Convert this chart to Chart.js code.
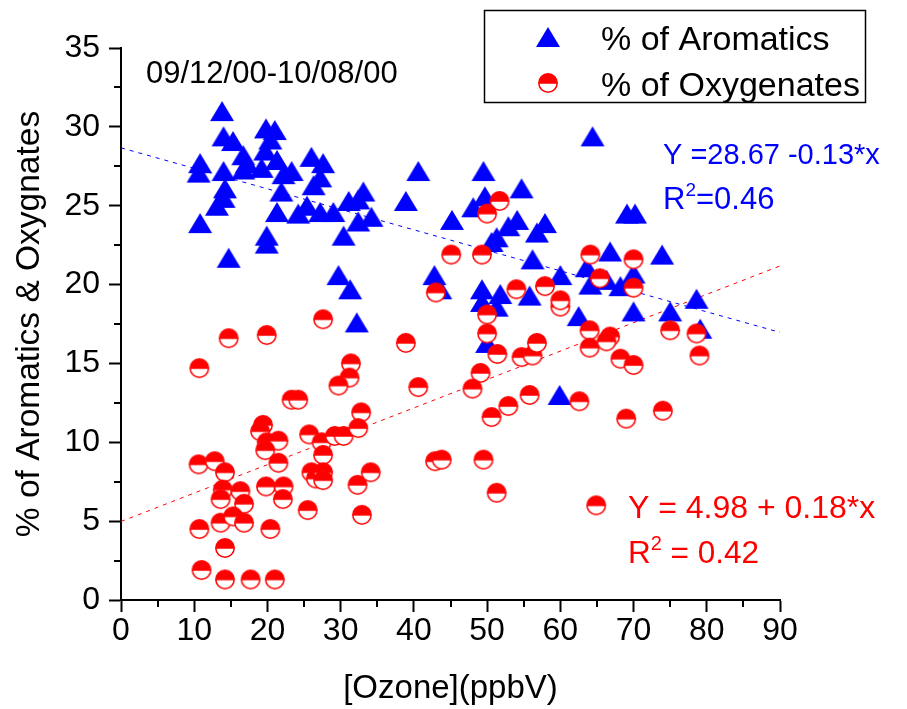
<!DOCTYPE html>
<html>
<head>
<meta charset="utf-8">
<script src="https://cdn.jsdelivr.net/npm/chart.js@4.4.1/dist/chart.umd.min.js"></script>
<style>
  html, body { margin: 0; padding: 0; background: #ffffff; }
  #wrap { width: 907px; height: 709px; }
</style>
</head>
<body>
<div id="wrap"><canvas id="c" width="907" height="709"></canvas></div>
<script>
// Ozone (ppbV) and % of aromatics
const ozoneAro = [13.8,14.0,15.3,19.8,21.0,20.4,16.7,17.2,19.7,21.3,10.8,10.6,14.0,16.7,19.2,23.3,22.2,26.0,27.6,27.2,
  26.3,21.9,14.2,14.0,13.1,21.3,25.4,24.2,27.2,29.0,31.1,10.8,19.9,19.9,14.7,30.4,29.7,31.3,
  33.1,32.4,34.2,32.4,32.2,
  40.6,49.5,54.7,38.9,49.7,48.1,45.2,54.1,52.9,57.9,56.8,51.3,50.6,56.2,60.0,42.8,43.6,49.3,51.8,49.3,51.3,55.8,62.5,50.0,59.9,64.4,
  69.1,70.2,66.8,73.9,63.6,70.0,64.1,66.3,68.2,78.6,70.0,75.0,79.1];
const aromatics = [31.0,29.4,29.1,29.9,29.8,29.2,28.2,27.7,28.5,27.9,27.7,27.1,27.2,27.3,27.4,27.2,27.0,28.1,27.7,26.8,
  26.3,25.9,26.1,25.5,25.0,24.6,25.0,24.5,24.6,24.6,25.3,23.9,23.1,22.6,21.7,23.1,20.6,19.7,
  25.9,25.4,24.3,24.0,17.6,
  27.2,27.2,26.1,25.3,25.6,24.9,24.1,24.1,23.7,23.9,23.3,23.0,22.7,21.6,20.6,20.6,19.7,19.7,19.4,18.9,18.6,19.3,18.0,16.3,13.0,29.4,
  24.5,24.5,22.1,21.9,21.1,20.7,20.0,20.3,19.9,19.1,18.3,18.3,17.2];

// Ozone (ppbV) and % of oxygenates
const ozoneOxy = [27.6,14.7,19.9,10.7,31.4,31.2,29.7,23.3,24.2,19.4,19.0,19.9,21.5,19.7,25.7,27.4,29.2,30.4,27.6,32.8,
  32.4,10.6,12.8,14.2,21.5,26.0,26.6,27.6,27.6,32.3,19.8,22.2,22.1,13.9,13.6,16.3,16.8,25.5,32.9,10.7,
  13.6,15.3,16.8,20.4,14.2,11.0,14.2,17.7,21.0,
  38.9,40.6,50.0,50.0,51.4,54.7,56.2,56.8,60.0,64.0,64.0,49.1,48.0,55.8,52.9,50.6,62.6,42.9,43.8,49.5,34.1,51.3,
  51.7,50.0,45.1,49.3,43.0,54.0,57.9,60.0,64.1,
  70.0,65.4,70.0,66.8,66.3,75.0,78.6,79.0,68.2,70.0,69.0,74.0,64.9];
const oxygenates = [17.8,16.6,16.8,14.7,15.0,14.1,13.6,12.7,12.7,11.1,10.7,10.0,10.1,9.5,10.5,10.0,10.4,10.4,9.2,11.9,
  10.9,8.6,8.8,8.1,8.7,8.1,7.7,8.1,7.6,7.3,7.2,7.2,6.4,7.0,6.4,6.9,6.1,5.7,5.4,4.5,
  4.9,5.3,4.9,4.5,3.3,1.9,1.3,1.3,1.3,
  16.3,13.5,18.1,16.9,15.6,15.4,15.5,16.3,18.6,17.1,16.0,14.4,13.4,13.0,12.3,11.6,12.6,8.8,8.9,8.9,8.1,6.8,
  25.3,24.5,21.9,21.9,19.5,19.7,19.9,19.0,21.9,
  21.6,20.4,19.8,16.7,16.4,17.1,16.9,15.5,15.3,14.9,11.5,12.0,6.0];

// Linear fits: [intercept, slope]
const fitAro = [28.67, -0.13];
const fitOxy = [4.98, 0.18];
const xTicks = [0, 10, 20, 30, 40, 50, 60, 70, 80, 90];
const yTicks = [0, 5, 10, 15, 20, 25, 30, 35];

const FONT = '"Liberation Sans", Arial, Helvetica, sans-serif';
const BLUE = '#0000ff';
const RED = '#ff0000';

// Filled blue triangle marker
function triangleMarker() {
  const c = document.createElement('canvas');
  c.width = 26; c.height = 22;
  const g = c.getContext('2d');
  g.fillStyle = BLUE;
  g.beginPath();
  g.moveTo(13, 1);
  g.lineTo(25, 21);
  g.lineTo(1, 21);
  g.closePath();
  g.fill();
  return c;
}

// Circle with red upper half and white lower half
function halfCircleMarker() {
  const c = document.createElement('canvas');
  c.width = 22; c.height = 22;
  const g = c.getContext('2d');
  const cx = 11, cy = 11, r = 9.2;
  g.fillStyle = '#ffffff';
  g.beginPath(); g.arc(cx, cy, r, 0, Math.PI * 2); g.fill();
  g.save();
  g.beginPath(); g.rect(0, 0, 22, cy + 0.8); g.clip();
  g.fillStyle = RED;
  g.beginPath(); g.arc(cx, cy, r, 0, Math.PI * 2); g.fill();
  g.restore();
  g.strokeStyle = RED;
  g.lineWidth = 1.5;
  g.beginPath(); g.arc(cx, cy, r, 0, Math.PI * 2); g.stroke();
  return c;
}

const triImg = triangleMarker();
const circImg = halfCircleMarker();

const pts = (xs, ys) => xs.map((x, i) => ({ x: x, y: ys[i] }));
const fitLine = (f) => [{ x: xTicks[0], y: f[0] + f[1] * xTicks[0] },
                        { x: xTicks[xTicks.length - 1], y: f[0] + f[1] * xTicks[xTicks.length - 1] }];

// Draw text made of runs, where some runs are superscripts
function richText(ctx, x, y, runs, size, color) {
  ctx.save();
  ctx.fillStyle = color;
  ctx.textBaseline = 'alphabetic';
  ctx.textAlign = 'left';
  let cx = x;
  for (const r of runs) {
    if (r.sup) {
      ctx.font = Math.round(size * 0.62) + 'px ' + FONT;
      ctx.fillText(r.t, cx, y - size * 0.42);
    } else {
      ctx.font = size + 'px ' + FONT;
      ctx.fillText(r.t, cx, y);
    }
    cx += ctx.measureText(r.t).width;
  }
  ctx.restore();
}

const decorations = {
  id: 'decorations',
  afterDraw(chart) {
    const ctx = chart.ctx;
    const xs = chart.scales.x, ys = chart.scales.y;

    // minor ticks
    ctx.save();
    ctx.strokeStyle = '#000';
    ctx.lineWidth = 2;
    ctx.beginPath();
    for (let v = 5; v < 90; v += 10) {
      const px = Math.round(xs.getPixelForValue(v));
      ctx.moveTo(px, ys.bottom); ctx.lineTo(px, ys.bottom + 7);
    }
    for (let v = 2.5; v < 35; v += 5) {
      const py = Math.round(ys.getPixelForValue(v));
      ctx.moveTo(xs.left, py); ctx.lineTo(xs.left - 7, py);
    }
    ctx.stroke();
    ctx.restore();

    // annotations
    richText(ctx, 146, 83, [{ t: '09/12/00-10/08/00' }], 31, '#000');
    richText(ctx, 663, 164, [{ t: 'Y =28.67 -0.13*x' }], 29, BLUE);
    richText(ctx, 663, 209, [{ t: 'R' }, { t: '2', sup: true }, { t: '=0.46' }], 31, BLUE);
    richText(ctx, 628, 518, [{ t: 'Y = 4.98 + 0.18*x' }], 32, RED);
    richText(ctx, 628, 563, [{ t: 'R' }, { t: '2', sup: true }, { t: ' = 0.42' }], 31.5, RED);

    // legend
    ctx.save();
    ctx.strokeStyle = '#000';
    ctx.lineWidth = 1.5;
    ctx.strokeRect(484.5, 10.5, 381, 92);
    ctx.drawImage(triImg, 548 - 13, 37 - 11);
    ctx.drawImage(circImg, 548 - 11, 83 - 11);
    ctx.restore();
    richText(ctx, 601, 50, [{ t: '% of Aromatics' }], 34, '#000');
    richText(ctx, 601, 96, [{ t: '% of Oxygenates' }], 34, '#000');
  }
};

new Chart(document.getElementById('c'), {
  type: 'scatter',
  data: {
    datasets: [
      {
        label: '% of Oxygenates',
        data: pts(ozoneOxy, oxygenates),
        pointStyle: circImg,
        pointRadius: 9,
        showLine: false
      },
      {
        label: '% of Aromatics',
        data: pts(ozoneAro, aromatics),
        pointStyle: triImg,
        pointRadius: 11,
        showLine: false
      },
      {
        label: 'Aromatics fit',
        data: fitLine(fitAro),
        showLine: true,
        borderColor: BLUE,
        borderWidth: 1,
        borderDash: [4, 5],
        pointRadius: 0
      },
      {
        label: 'Oxygenates fit',
        data: fitLine(fitOxy),
        showLine: true,
        borderColor: RED,
        borderWidth: 1,
        borderDash: [4, 5],
        pointRadius: 0
      }
    ]
  },
  options: {
    responsive: false,
    maintainAspectRatio: false,
    animation: false,
    layout: { padding: { left: 0, right: 127, top: 48, bottom: 0 } },
    plugins: {
      legend: { display: false },
      tooltip: { enabled: false }
    },
    scales: {
      x: {
        type: 'linear',
        min: 0, max: 90,
        afterBuildTicks: (s) => { s.ticks = xTicks.map(v => ({ value: v })); },
        afterFit: (s) => { s.height = 109; },
        border: { display: true, color: '#000', width: 2 },
        grid: { drawOnChartArea: false, drawTicks: true, tickLength: 12, tickColor: '#000', tickWidth: 2 },
        ticks: { color: '#000', padding: 0, font: { family: FONT, size: 32 }, maxRotation: 0 },
        title: { display: true, text: '[Ozone](ppbV)', color: '#000', font: { family: FONT, size: 33 }, padding: { top: 0, bottom: 0 } }
      },
      y: {
        type: 'linear',
        min: 0, max: 35,
        afterBuildTicks: (s) => { s.ticks = yTicks.map(v => ({ value: v })); },
        afterFit: (s) => { s.width = 121; },
        border: { display: true, color: '#000', width: 2 },
        grid: { drawOnChartArea: false, drawTicks: true, tickLength: 12, tickColor: '#000', tickWidth: 2 },
        ticks: { color: '#000', padding: 9, font: { family: FONT, size: 32 } },
        title: { display: true, text: '% of Aromatics & Oxygnates', color: '#000', font: { family: FONT, size: 33.5 }, padding: { top: 10, bottom: 0 } }
      }
    }
  },
  plugins: [decorations]
});
</script>
</body>
</html>
